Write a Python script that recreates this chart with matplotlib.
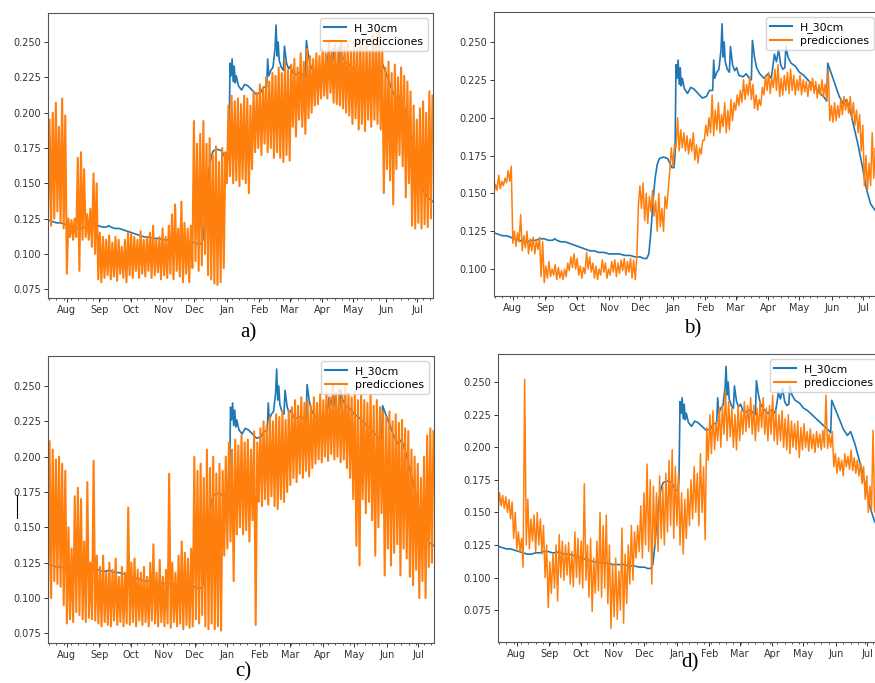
import numpy as np
import matplotlib
matplotlib.use("Agg")
import matplotlib.pyplot as plt
import matplotlib.dates as mdates
from matplotlib.lines import Line2D

# Time axis: day 0 = 14 Jul, one year of soil-moisture data
START = np.datetime64("2019-07-14T00")
STEP = 3  # days between envelope readings of the predictions

# Measured moisture at 30 cm (same in all four panels)
blue_days = [0, 4, 8, 12, 16, 20, 24, 28, 32, 36, 40, 44, 48, 52, 56, 58, 60, 64, 68, 72,
             76, 80, 84, 88, 92, 96, 100, 105, 110, 115, 120, 125, 130, 135, 140, 143, 146,
             148, 150, 152, 154, 156, 158, 162, 166, 168, 170, 172, 173, 174, 175, 176, 177,
             178, 179, 180, 182, 185, 188, 191, 195, 199, 203, 206, 209, 210, 211, 213, 215,
             217, 218, 219, 220, 221, 223, 225, 226, 228, 230, 232, 234, 238, 241, 244, 246,
             247, 249, 251, 254, 258, 262, 265, 267, 268, 270, 272, 274, 276, 278, 279, 281,
             284, 288, 292, 296, 300, 304, 308, 312, 316, 318, 319, 322, 326, 330, 334, 337,
             341, 344, 348, 352, 356, 360, 364, 368]
blue_vals = [0.124, 0.123, 0.122, 0.122, 0.121, 0.120, 0.119, 0.118, 0.118, 0.119, 0.119,
             0.120, 0.120, 0.119, 0.119, 0.120, 0.119, 0.118, 0.118, 0.117, 0.116, 0.115,
             0.114, 0.113, 0.112, 0.112, 0.111, 0.111, 0.110, 0.110, 0.110, 0.109, 0.109,
             0.108, 0.108, 0.107, 0.107, 0.110, 0.125, 0.145, 0.160, 0.169, 0.173, 0.174,
             0.173, 0.170, 0.167, 0.167, 0.175, 0.235, 0.226, 0.238, 0.222, 0.233, 0.221,
             0.226, 0.219, 0.216, 0.220, 0.219, 0.216, 0.213, 0.214, 0.218, 0.218, 0.238,
             0.226, 0.230, 0.232, 0.245, 0.262, 0.240, 0.250, 0.237, 0.232, 0.230, 0.247,
             0.235, 0.231, 0.233, 0.228, 0.227, 0.229, 0.226, 0.225, 0.251, 0.240, 0.233,
             0.229, 0.226, 0.229, 0.226, 0.236, 0.242, 0.237, 0.245, 0.235, 0.232, 0.233,
             0.247, 0.240, 0.236, 0.234, 0.230, 0.228, 0.225, 0.222, 0.219, 0.216, 0.213,
             0.211, 0.236, 0.230, 0.222, 0.214, 0.209, 0.212, 0.203, 0.194, 0.182, 0.168,
             0.153, 0.143, 0.139, 0.137]

# Predictions, lower / upper reading every STEP days (a, b, c, d)
a_lo = [0.122, 0.120, 0.125, 0.130, 0.122, 0.118, 0.086, 0.112, 0.110, 0.112, 0.088, 0.110,
        0.112, 0.110, 0.105, 0.100, 0.082, 0.080, 0.083, 0.085, 0.082, 0.084, 0.081, 0.086,
        0.083, 0.080, 0.085, 0.083, 0.088, 0.083, 0.086, 0.084, 0.088, 0.083, 0.085, 0.087,
        0.082, 0.085, 0.083, 0.086, 0.082, 0.088, 0.084, 0.080, 0.086, 0.080, 0.090, 0.095,
        0.088, 0.092, 0.100, 0.085, 0.082, 0.079, 0.078, 0.080, 0.090, 0.150, 0.155, 0.150,
        0.152, 0.148, 0.153, 0.150, 0.143, 0.160, 0.172, 0.175, 0.170, 0.178, 0.172, 0.175,
        0.168, 0.172, 0.168, 0.165, 0.170, 0.166, 0.190, 0.183, 0.195, 0.190, 0.185, 0.196,
        0.200, 0.205, 0.206, 0.210, 0.212, 0.210, 0.214, 0.207, 0.206, 0.205, 0.203, 0.200,
        0.198, 0.192, 0.196, 0.188, 0.192, 0.187, 0.195, 0.190, 0.195, 0.192, 0.188, 0.143,
        0.160, 0.152, 0.135, 0.160, 0.170, 0.162, 0.140, 0.150, 0.120, 0.118, 0.122, 0.118,
        0.121, 0.119, 0.125]
a_hi = [0.195, 0.200, 0.207, 0.190, 0.210, 0.198, 0.125, 0.124, 0.125, 0.168, 0.172, 0.160,
        0.128, 0.132, 0.157, 0.150, 0.115, 0.112, 0.110, 0.113, 0.108, 0.112, 0.110, 0.105,
        0.110, 0.115, 0.114, 0.112, 0.110, 0.116, 0.110, 0.112, 0.115, 0.120, 0.110, 0.112,
        0.118, 0.112, 0.120, 0.128, 0.135, 0.118, 0.137, 0.122, 0.118, 0.120, 0.194, 0.178,
        0.185, 0.194, 0.178, 0.182, 0.170, 0.176, 0.165, 0.175, 0.172, 0.205, 0.212, 0.208,
        0.210, 0.206, 0.212, 0.210, 0.205, 0.215, 0.214, 0.220, 0.218, 0.225, 0.222, 0.228,
        0.226, 0.232, 0.228, 0.236, 0.230, 0.234, 0.238, 0.232, 0.242, 0.236, 0.245, 0.240,
        0.238, 0.242, 0.240, 0.245, 0.242, 0.250, 0.244, 0.248, 0.245, 0.250, 0.246, 0.248,
        0.244, 0.250, 0.245, 0.252, 0.246, 0.250, 0.244, 0.255, 0.248, 0.257, 0.245, 0.232,
        0.236, 0.228, 0.234, 0.225, 0.232, 0.226, 0.222, 0.215, 0.205, 0.195, 0.203, 0.208,
        0.200, 0.215, 0.212]

b_lo = [0.150, 0.152, 0.153, 0.155, 0.157, 0.158, 0.117, 0.115, 0.118, 0.112, 0.114, 0.110,
        0.112, 0.110, 0.113, 0.095, 0.091, 0.094, 0.095, 0.096, 0.093, 0.094, 0.093, 0.095,
        0.099, 0.101, 0.100, 0.096, 0.094, 0.097, 0.100, 0.098, 0.094, 0.093, 0.096, 0.098,
        0.094, 0.096, 0.098, 0.095, 0.097, 0.099, 0.096, 0.098, 0.094, 0.093, 0.142, 0.140,
        0.132, 0.130, 0.138, 0.135, 0.125, 0.128, 0.125, 0.140, 0.165, 0.168, 0.180, 0.178,
        0.180, 0.178, 0.176, 0.178, 0.172, 0.170, 0.176, 0.185, 0.188, 0.190, 0.188, 0.192,
        0.190, 0.194, 0.190, 0.192, 0.198, 0.205, 0.208, 0.210, 0.212, 0.215, 0.212, 0.206,
        0.205, 0.208, 0.215, 0.218, 0.216, 0.220, 0.218, 0.214, 0.215, 0.218, 0.216, 0.218,
        0.215, 0.218, 0.215, 0.217, 0.214, 0.218, 0.216, 0.213, 0.215, 0.214, 0.212, 0.198,
        0.197, 0.198, 0.200, 0.202, 0.205, 0.203, 0.200, 0.195, 0.190, 0.178, 0.155, 0.152,
        0.155, 0.160, 0.158]
b_hi = [0.156, 0.162, 0.158, 0.160, 0.165, 0.168, 0.125, 0.124, 0.136, 0.122, 0.125, 0.120,
        0.121, 0.119, 0.121, 0.118, 0.102, 0.105, 0.100, 0.103, 0.101, 0.099, 0.100, 0.104,
        0.108, 0.110, 0.107, 0.102, 0.101, 0.111, 0.108, 0.104, 0.102, 0.100, 0.106, 0.104,
        0.100, 0.105, 0.106, 0.104, 0.106, 0.107, 0.105, 0.107, 0.106, 0.108, 0.155, 0.157,
        0.150, 0.148, 0.152, 0.145, 0.150, 0.140, 0.148, 0.152, 0.180, 0.182, 0.200, 0.192,
        0.190, 0.188, 0.186, 0.190, 0.182, 0.180, 0.185, 0.195, 0.200, 0.215, 0.205, 0.210,
        0.202, 0.210, 0.205, 0.212, 0.210, 0.215, 0.218, 0.225, 0.222, 0.227, 0.222, 0.215,
        0.212, 0.220, 0.228, 0.230, 0.226, 0.232, 0.235, 0.226, 0.228, 0.230, 0.232, 0.228,
        0.225, 0.228, 0.225, 0.224, 0.224, 0.226, 0.224, 0.222, 0.225, 0.222, 0.232, 0.208,
        0.210, 0.208, 0.212, 0.214, 0.212, 0.214, 0.210, 0.205, 0.202, 0.195, 0.175, 0.170,
        0.190, 0.180, 0.178]

c_lo = [0.092, 0.100, 0.112, 0.110, 0.108, 0.095, 0.082, 0.085, 0.083, 0.090, 0.088, 0.085,
        0.083, 0.086, 0.085, 0.084, 0.082, 0.080, 0.083, 0.081, 0.080, 0.084, 0.081, 0.083,
        0.080, 0.082, 0.081, 0.083, 0.080, 0.084, 0.081, 0.083, 0.080, 0.084, 0.082, 0.080,
        0.083, 0.080, 0.082, 0.079, 0.083, 0.080, 0.082, 0.078, 0.081, 0.079, 0.080, 0.085,
        0.082, 0.088, 0.080, 0.078, 0.082, 0.078, 0.080, 0.077, 0.130, 0.135, 0.140, 0.112,
        0.145, 0.150, 0.145, 0.148, 0.140, 0.155, 0.081, 0.168, 0.165, 0.170, 0.166, 0.172,
        0.165, 0.163, 0.170, 0.168, 0.175, 0.180, 0.185, 0.182, 0.188, 0.185, 0.190, 0.186,
        0.192, 0.195, 0.198, 0.196, 0.200, 0.197, 0.202, 0.198, 0.200, 0.196, 0.198, 0.192,
        0.185, 0.170, 0.137, 0.123, 0.170, 0.160, 0.168, 0.155, 0.130, 0.150, 0.160, 0.116,
        0.135, 0.123, 0.132, 0.138, 0.116, 0.135, 0.128, 0.115, 0.109, 0.120, 0.100, 0.112,
        0.100, 0.122, 0.125]
c_hi = [0.211, 0.205, 0.198, 0.200, 0.195, 0.190, 0.150, 0.135, 0.172, 0.178, 0.170, 0.140,
        0.182, 0.125, 0.197, 0.130, 0.122, 0.130, 0.118, 0.125, 0.120, 0.128, 0.115, 0.122,
        0.118, 0.164, 0.125, 0.128, 0.120, 0.118, 0.122, 0.115, 0.125, 0.138, 0.118, 0.127,
        0.115, 0.120, 0.188, 0.125, 0.118, 0.130, 0.140, 0.132, 0.128, 0.135, 0.200, 0.190,
        0.195, 0.185, 0.205, 0.192, 0.200, 0.188, 0.195, 0.190, 0.200, 0.210, 0.205, 0.212,
        0.208, 0.215, 0.210, 0.212, 0.205, 0.218, 0.210, 0.220, 0.225, 0.222, 0.228, 0.225,
        0.230, 0.228, 0.232, 0.226, 0.232, 0.235, 0.240, 0.236, 0.242, 0.238, 0.240, 0.236,
        0.242, 0.238, 0.244, 0.240, 0.246, 0.242, 0.250, 0.245, 0.248, 0.244, 0.250, 0.245,
        0.242, 0.246, 0.240, 0.244, 0.240, 0.238, 0.244, 0.236, 0.240, 0.235, 0.232, 0.228,
        0.232, 0.225, 0.230, 0.224, 0.226, 0.220, 0.218, 0.205, 0.200, 0.195, 0.185, 0.200,
        0.215, 0.220, 0.218]

d_lo = [0.150, 0.155, 0.153, 0.150, 0.145, 0.130, 0.122, 0.120, 0.108, 0.125, 0.122, 0.128,
        0.120, 0.125, 0.118, 0.100, 0.077, 0.088, 0.092, 0.082, 0.100, 0.098, 0.102, 0.095,
        0.093, 0.100, 0.095, 0.092, 0.098, 0.085, 0.074, 0.088, 0.090, 0.085, 0.092, 0.080,
        0.061, 0.070, 0.068, 0.075, 0.065, 0.080, 0.095, 0.098, 0.115, 0.120, 0.115, 0.125,
        0.120, 0.095, 0.125, 0.120, 0.130, 0.125, 0.135, 0.140, 0.130, 0.140, 0.125, 0.118,
        0.130, 0.140, 0.145, 0.150, 0.140, 0.150, 0.129, 0.190, 0.195, 0.198, 0.205, 0.200,
        0.210, 0.205, 0.208, 0.200, 0.198, 0.205, 0.210, 0.212, 0.215, 0.210, 0.205, 0.212,
        0.215, 0.210, 0.205, 0.210, 0.205, 0.202, 0.205, 0.200, 0.198, 0.195, 0.200, 0.198,
        0.192, 0.198, 0.200, 0.197, 0.199, 0.196, 0.200, 0.198, 0.200, 0.199, 0.200, 0.185,
        0.180, 0.182, 0.178, 0.185, 0.183, 0.182, 0.180, 0.178, 0.172, 0.160, 0.150, 0.152,
        0.150, 0.148, 0.150]
d_hi = [0.165, 0.163, 0.162, 0.160, 0.158, 0.150, 0.135, 0.130, 0.252, 0.160, 0.145, 0.148,
        0.150, 0.145, 0.140, 0.125, 0.112, 0.118, 0.125, 0.133, 0.128, 0.125, 0.127, 0.120,
        0.135, 0.130, 0.128, 0.172, 0.125, 0.130, 0.115, 0.128, 0.150, 0.140, 0.148, 0.125,
        0.110, 0.115, 0.105, 0.138, 0.118, 0.125, 0.140, 0.135, 0.140, 0.155, 0.165, 0.187,
        0.175, 0.170, 0.165, 0.178, 0.170, 0.180, 0.190, 0.198, 0.185, 0.180, 0.165, 0.160,
        0.168, 0.175, 0.185, 0.180, 0.195, 0.185, 0.215, 0.225, 0.228, 0.220, 0.230, 0.232,
        0.243, 0.235, 0.230, 0.225, 0.232, 0.228, 0.235, 0.232, 0.238, 0.232, 0.230, 0.235,
        0.238, 0.230, 0.232, 0.240, 0.228, 0.225, 0.228, 0.222, 0.225, 0.220, 0.218, 0.220,
        0.215, 0.218, 0.212, 0.214, 0.210, 0.212, 0.210, 0.213, 0.240, 0.210, 0.212, 0.195,
        0.192, 0.190, 0.195, 0.193, 0.198, 0.192, 0.190, 0.188, 0.185, 0.178, 0.170, 0.213,
        0.165, 0.160, 0.162]


def to_dates(days):
    hours = np.round(np.asarray(days, dtype=float) * 24).astype(int)
    return START + hours.astype("timedelta64[h]")


def zigzag(lo, hi):
    # alternate lower and upper readings so the noisy band is drawn as one line
    k = np.arange(len(lo))
    t = np.empty(2 * len(lo))
    v = np.empty(2 * len(lo))
    t[0::2] = k * STEP
    t[1::2] = k * STEP + STEP / 2
    v[0::2] = lo
    v[1::2] = hi
    return to_dates(t), v


W, H = 875, 683
fig = plt.figure(figsize=(W / 100, H / 100), dpi=100)

# (lo, hi, [left, top, right, bottom] in pixels, ylim, orange width, label, label centre)
panels = [
    (a_lo, a_hi, [48, 13, 433, 298], (0.0688, 0.2705), 1.5, "a)", (248, 333)),
    (b_lo, b_hi, [494, 12, 879, 296], (0.0822, 0.2698), 1.1, "b)", (693, 329)),
    (c_lo, c_hi, [48, 356, 434, 643], (0.0682, 0.2712), 1.5, "c)", (243, 672)),
    (d_lo, d_hi, [498, 354, 883, 642], (0.0506, 0.2715), 1.1, "d)", (690, 663)),
]

blue_t = to_dates(blue_days)
x0 = to_dates([0])[0]
x1 = to_dates([368])[0]
yticks = [0.075, 0.100, 0.125, 0.150, 0.175, 0.200, 0.225, 0.250]

for lo, hi, box, ylim, olw, lab, lpos in panels:
    l, t, r, b = box
    ax = fig.add_axes([l / W, 1 - b / H, (r - l) / W, (b - t) / H])
    ax.plot(blue_t, blue_vals, color="#1f77b4", lw=1.2, label="H_30cm")
    ot, ov = zigzag(lo, hi)
    ax.plot(ot, ov, color="#ff7f0e", lw=olw, label="predicciones")
    ax.set_yticks(yticks)
    ax.set_xlim(x0, x1)
    ax.set_ylim(*ylim)
    ax.yaxis.set_major_formatter(plt.FormatStrFormatter("%.3f"))
    ax.xaxis.set_major_locator(mdates.MonthLocator())
    ax.xaxis.set_minor_locator(mdates.WeekdayLocator(byweekday=mdates.MO))
    ax.xaxis.set_major_formatter(mdates.DateFormatter("%b"))
    ax.tick_params(axis="both", which="major", labelsize=7, length=3, width=0.7,
                   colors="#333333", pad=2)
    ax.tick_params(axis="x", which="minor", length=1.6, width=0.6, colors="#333333")
    for s in ax.spines.values():
        s.set_color("#555555")
        s.set_linewidth(0.8)
    leg = ax.legend(loc="upper right", fontsize=7.8, handlelength=2.0, borderpad=0.4,
                    labelspacing=0.3, framealpha=0.8, edgecolor="#cccccc", fancybox=True)
    for h in leg.get_lines():
        h.set_linewidth(1.5)
    fig.text(lpos[0] / W, 1 - lpos[1] / H, lab, ha="center", va="center",
             fontsize=15, family="Liberation Serif")

# small stray mark at the left of panel c
fig.add_artist(Line2D([17 / W, 17 / W], [1 - 495 / H, 1 - 518 / H], color="black", lw=0.8))

fig.savefig("out.png", dpi=100)
